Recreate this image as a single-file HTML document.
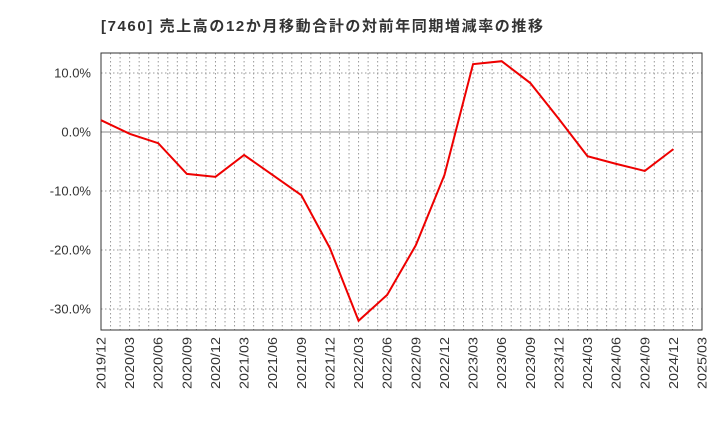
<!DOCTYPE html>
<html><head><meta charset="utf-8"><style>
body{margin:0;background:#fff;font-family:"Liberation Sans","Noto Sans CJK JP",sans-serif}
</style></head><body>
<svg id="c" width="720" height="440" xmlns="http://www.w3.org/2000/svg">
<text x="101" y="31" font-size="15" font-weight="bold" fill="#333" textLength="442" lengthAdjust="spacing" font-family="Liberation Sans, Noto Sans CJK JP, sans-serif">[7460]  売上高の12か月移動合計の対前年同期増減率の推移</text>
<g id="grid"></g><g id="axes"></g><g id="series"></g>
</svg>
<script>
const categories=["2019/12","2020/03","2020/06","2020/09","2020/12","2021/03","2021/06","2021/09","2021/12","2022/03","2022/06","2022/09","2022/12","2023/03","2023/06","2023/09","2023/12","2024/03","2024/06","2024/09","2024/12","2025/03"];
const values=[2.0,-0.3,-1.9,-7.1,-7.6,-3.9,-7.3,-10.7,-19.7,-32.0,-27.6,-19.2,-7.3,11.5,12.0,8.3,2.2,-4.1,-5.4,-6.6,-2.9];
const yTicks=[10,0,-10,-20,-30];
const yTickLabels=["10.0%","0.0%","-10.0%","-20.0%","-30.0%"];
const L=101,R=702,T=53,B=330;
const ns="http://www.w3.org/2000/svg";
const x=i=>L+(R-L)*i/(categories.length-1);
const y=v=>132-v*5.9;
function mk(t,a,p){const e=document.createElementNS(ns,t);for(const k in a)e.setAttribute(k,a[k]);p.appendChild(e);return e;}
const g=document.getElementById('grid'),ax=document.getElementById('axes'),s=document.getElementById('series');
for(let m=1;m<(categories.length-1)*3;m++){const xx=L+(R-L)*m/((categories.length-1)*3);
const l=mk('line',{x1:xx,x2:xx,y1:T,y2:B,stroke:'#999','stroke-dasharray':'1.5,2.5','stroke-width':1},g);
}
yTicks.forEach((v,i)=>{const yy=y(v);
const l=mk('line',{x1:L,x2:R,y1:yy,y2:yy,stroke:v===0?'#888':'#999','stroke-dasharray':v===0?'':'1.5,2.5','stroke-width':1},g);

const t=mk('text',{x:L-10,y:yy+4.5,'text-anchor':'end','font-size':13,fill:'#333'},ax);t.textContent=yTickLabels[i];
});
categories.forEach((c,i)=>{const xx=x(i);
const t=mk('text',{x:0,y:0,'text-anchor':'end','font-size':12.5,fill:'#333',textLength:52,lengthAdjust:'spacingAndGlyphs',transform:`translate(${xx+4.5},337) rotate(-90)`},ax);t.textContent=c;
});
const fr=mk('rect',{x:L,y:T,width:R-L,height:B-T,fill:'none',stroke:'#333','stroke-width':1},ax);

const p=mk('polyline',{points:values.map((v,i)=>x(i)+','+y(v)).join(' '),fill:'none',stroke:'#e00','stroke-width':2},s);

</script>
</body></html>
